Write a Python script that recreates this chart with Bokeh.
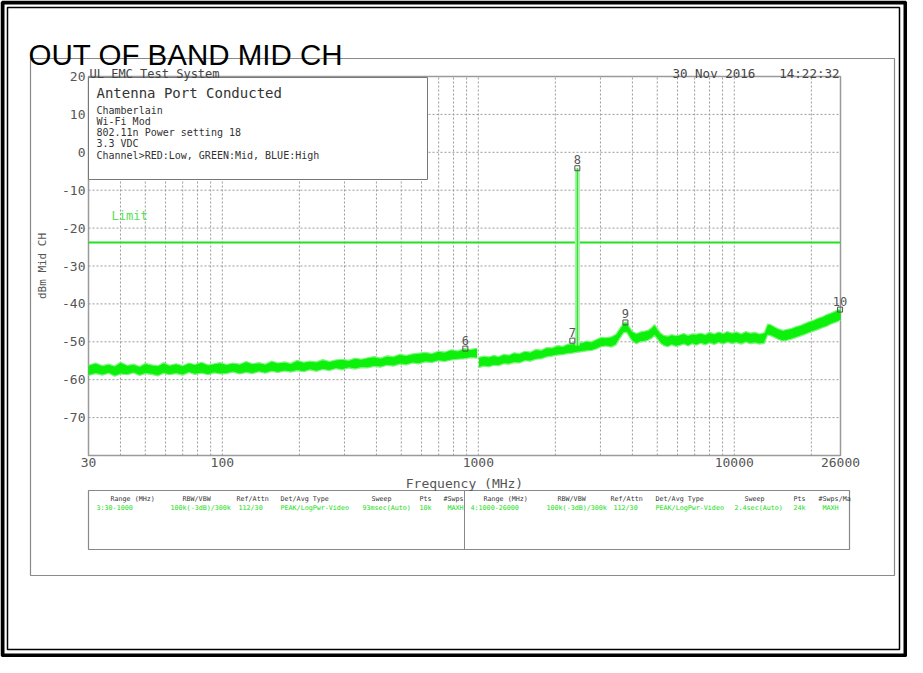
import math
from bokeh.plotting import figure
from bokeh.models import Range1d, LogScale, LinearAxis, FixedTicker, BasicTickFormatter
from bokeh.embed import file_html
from bokeh.resources import INLINE
from bokeh.core.properties import value

# ---------------- data ----------------
title_text = "OUT OF BAND MID CH"
system_text = "UL EMC Test System"
date_text = "30 Nov 2016"
time_text = "14:22:32"
info_title = "Antenna Port Conducted"
info_lines = ["Chamberlain", "Wi-Fi Mod", "802.11n Power setting 18", "3.3 VDC",
              "Channel>RED:Low, GREEN:Mid, BLUE:High"]
x_label = "Frequency (MHz)"
y_label = "dBm Mid CH"

f_min, f_max = 30, 26000
db_min, db_max = -80, 20
x_ticks = [30, 100, 1000, 10000, 26000]
x_tick_labels = ["30", "100", "1000", "10000", "26000"]
y_ticks = [20, 10, 0, -10, -20, -30, -40, -50, -60, -70]
y_tick_labels = ["20", "10", "0", "-10", "-20", "-30", "-40", "-50", "-60", "-70"]
grid_freqs = [40, 50, 60, 70, 80, 90, 100, 200, 300, 400, 500, 600, 700, 800, 900,
              1000, 2000, 3000, 4000, 5000, 6000, 7000, 8000, 9000, 10000, 20000]
grid_dbm = [10, 0, -10, -20, -30, -40, -50, -60, -70]

limit_dbm = -23.8
limit_label = "Limit"

# sweep 3: 30-1000 MHz (noise envelope, dBm)
sweep3_freq = [30, 32, 34, 36, 38, 40, 42.5, 45, 47.5, 50, 53, 56, 59, 62, 66, 70, 74, 78, 83,
               88, 93, 98, 104, 110, 117, 124, 131, 139, 147, 156, 165, 175, 185, 196, 208,
               220, 233, 247, 262, 277, 294, 311, 330, 349, 370, 392, 415, 440, 466, 494,
               523, 554, 587, 622, 659, 698, 740, 784, 830, 880, 932, 990]
sweep3_lo = [-58.9, -58.4, -58.8, -58.3, -59.1, -58.5, -58.7, -58.2, -58.9, -58.4, -58.6, -59.0,
             -58.3, -58.7, -58.4, -58.8, -58.1, -58.6, -58.3, -58.7, -58.2, -58.5, -58.4, -58.0,
             -58.5, -58.1, -58.4, -57.9, -58.3, -57.8, -58.1, -57.7, -58.0, -57.6, -57.9, -57.4,
             -57.8, -57.3, -57.6, -57.1, -57.4, -56.9, -57.2, -56.8, -56.9, -56.5, -56.7, -56.2,
             -56.4, -55.9, -56.1, -55.6, -55.8, -55.3, -55.5, -55.0, -55.2, -54.8, -54.6, -54.5,
             -54.2, -54.3]
sweep3_hi = [-56.2, -55.6, -56.3, -55.9, -56.4, -55.4, -56.2, -55.9, -56.5, -55.7, -56.1, -56.3,
             -55.5, -56.2, -55.8, -56.3, -55.6, -56.0, -55.4, -56.1, -55.8, -55.5, -56.0, -55.6,
             -55.9, -55.2, -55.8, -55.5, -55.9, -55.1, -55.6, -55.3, -55.7, -54.9, -55.4, -55.1,
             -55.3, -54.7, -55.2, -54.8, -54.6, -54.9, -54.3, -54.6, -54.2, -53.9, -54.3, -53.7,
             -53.9, -53.3, -53.6, -53.2, -53.0, -52.8, -53.1, -52.5, -52.7, -52.1, -52.4, -51.8,
             -52.0, -51.7]
# sweep 4: 1000-26000 MHz (noise envelope, dBm)
sweep4_freq = [1005, 1050, 1100, 1150, 1200, 1260, 1320, 1380, 1450, 1520, 1600, 1680, 1760,
               1850, 1940, 2040, 2140, 2240, 2330, 2420, 2540, 2650, 2770, 2890, 3020, 3150,
               3300, 3450, 3580, 3700, 3800, 3900, 4000, 4150, 4300, 4450, 4600, 4750, 4880,
               5000, 5150, 5300, 5500, 5700, 5900, 6100, 6350, 6600, 6850, 7100, 7400, 7700,
               8000, 8350, 8700, 9050, 9400, 9800, 10200, 10650, 11100, 11550, 12050, 12550,
               13100, 13500, 13900, 14400, 14900, 15500, 16100, 16700, 17400, 18100, 18800,
               19600, 20400, 21200, 22100, 23000, 23900, 24800, 25500, 26000]
sweep4_lo = [-56.8, -56.4, -56.6, -56.2, -56.3, -55.8, -55.9, -55.5, -55.6, -55.0, -55.1, -54.6,
             -54.5, -54.0, -53.8, -53.5, -53.4, -53.1, -53.0, -52.8, -52.6, -52.4, -52.3, -51.9,
             -51.3, -51.1, -51.4, -50.8, -49.0, -47.6, -47.5, -48.8, -49.9, -50.5, -50.0, -49.9,
             -49.6, -49.1, -48.3, -49.2, -50.4, -51.0, -51.3, -50.8, -51.2, -51.0, -50.6, -51.1,
             -50.5, -50.9, -50.4, -50.8, -50.3, -50.7, -50.2, -50.6, -50.1, -50.5, -50.2, -50.6,
             -50.1, -50.5, -50.3, -50.6, -50.4, -48.2, -48.4, -48.9, -49.4, -49.8, -49.6, -49.3,
             -48.9, -48.5, -48.1, -47.6, -47.2, -46.8, -46.3, -45.9, -45.3, -44.9, -44.6, -44.3]
sweep4_hi = [-54.1, -53.8, -54.0, -53.6, -53.9, -53.3, -53.5, -52.9, -53.1, -52.5, -52.7, -52.0,
             -52.2, -51.5, -51.6, -51.0, -51.2, -50.6, -50.5, -50.3, -50.2, -49.8, -50.0, -49.4,
             -48.8, -48.9, -48.7, -48.0, -46.4, -45.0, -44.8, -46.2, -47.3, -47.8, -47.4, -47.2,
             -47.0, -46.3, -45.4, -46.5, -47.7, -48.3, -48.5, -48.1, -48.4, -48.2, -47.8, -48.3,
             -47.9, -48.0, -47.7, -48.1, -47.5, -47.9, -47.4, -47.8, -47.3, -47.7, -47.4, -47.9,
             -47.3, -47.7, -47.5, -47.9, -47.6, -45.3, -45.5, -46.1, -46.6, -47.0, -46.7, -46.5,
             -46.0, -45.7, -45.2, -44.7, -44.3, -43.8, -43.4, -42.8, -42.4, -41.9, -41.5, -41.4]

carrier_freq = 2437
carrier_peak = -4.2
carrier_base = -51.0

marker_ids = ["6", "7", "8", "9", "10"]
marker_freq = [890, 2330, 2437, 3757, 25900]
marker_dbm = [-51.8, -49.7, -4.2, -44.9, -41.5]

table_headers_low = ["Range (MHz)", "RBW/VBW", "Ref/Attn", "Det/Avg Type", "Sweep", "Pts", "#Swps"]
table_headers_high = ["Range (MHz)", "RBW/VBW", "Ref/Attn", "Det/Avg Type", "Sweep", "Pts", "#Swps/Ma"]
table_row_low = ["3:30-1000", "100k(-3dB)/300k", "112/30", "PEAK/LogPwr-Video", "93msec(Auto)", "10k", "MAXH"]
table_row_high = ["4:1000-26000", "100k(-3dB)/300k", "112/30", "PEAK/LogPwr-Video", "2.4sec(Auto)", "24k", "MAXH"]

# ---------------- layout ----------------
W, H = 907, 657
frame_left, frame_right, frame_top, frame_bottom = 88, 840, 76, 455
MONO = value("DejaVu Sans Mono")

p = figure(width=W, height=H, x_range=Range1d(0, W), y_range=Range1d(H, 0),
           x_axis_type=None, y_axis_type=None, output_backend="svg",
           toolbar_location=None, min_border=0)
p.outline_line_color = None
p.background_fill_color = "white"
p.border_fill_color = "white"

dpp = (math.log10(f_max) - math.log10(f_min)) / (frame_right - frame_left)
f_lo = 10 ** (math.log10(f_min) - frame_left * dpp)
f_hi = 10 ** (math.log10(f_max) + (W - frame_right) * dpp)
dbpp = (db_max - db_min) / (frame_bottom - frame_top)
db_hi = db_max + frame_top * dbpp
db_lo = db_min - (H - frame_bottom) * dbpp
p.extra_x_ranges = {"freq": Range1d(f_lo, f_hi)}
p.extra_x_scales = {"freq": LogScale()}
p.extra_y_ranges = {"dbm": Range1d(db_lo, db_hi)}
D = dict(x_range_name="freq", y_range_name="dbm")

# page borders
p.quad(left=[2], right=[W - 2], top=[2], bottom=[H - 2], fill_color=None,
       line_color="black", line_width=4)
p.quad(left=[7], right=[W - 8], top=[7], bottom=[H - 8], fill_color=None,
       line_color="black", line_width=1.5)
# gray frame
p.quad(left=[30], right=[894], top=[58], bottom=[575], fill_color=None,
       line_color="#8a8a8a", line_width=1.2)

# title
p.text(x=[28], y=[54], text=[title_text], text_font=value("Liberation Sans"),
       text_font_size="29.5px", text_color="black", text_baseline="alphabetic")

# grid
ng = len(grid_freqs)
p.segment(x0=grid_freqs, y0=[db_min] * ng, x1=grid_freqs, y1=[db_max] * ng,
          line_color="#9a9a9a", line_dash="2 2", line_width=1, **D)
nh = len(grid_dbm)
p.segment(x0=[f_min] * nh, y0=grid_dbm, x1=[f_max] * nh, y1=grid_dbm,
          line_color="#9a9a9a", line_dash="2 2", line_width=1, **D)
p.quad(left=[f_min], right=[f_max], top=[db_max], bottom=[db_min], fill_color=None,
       line_color="#9a9a9a", line_width=1.5, **D)

# limit
p.segment(x0=[f_min], y0=[limit_dbm], x1=[f_max], y1=[limit_dbm],
          line_color="#22e022", line_width=2, **D)

# trace (two sweeps)
for fx, lo, hi in ((sweep3_freq, sweep3_lo, sweep3_hi), (sweep4_freq, sweep4_lo, sweep4_hi)):
    p.varea(x=fx, y1=lo, y2=hi, fill_color="#0cf00c", **D)
    p.line(x=fx, y=hi, line_color="#7cf67c", line_width=1.2, **D)
    p.line(x=fx, y=lo, line_color="#7cf67c", line_width=1.2, **D)

# carrier spike
p.segment(x0=[carrier_freq], y0=[carrier_base], x1=[carrier_freq], y1=[carrier_peak],
          line_color="#a4f2a4", line_width=5, **D)
p.segment(x0=[carrier_freq], y0=[carrier_base], x1=[carrier_freq], y1=[carrier_peak],
          line_color="#1edc1e", line_width=1, **D)

# markers
p.scatter(x=marker_freq, y=marker_dbm, marker="square", size=5, fill_color=None,
          line_color="#555555", line_width=1, **D)
p.text(x=marker_freq, y=marker_dbm, text=marker_ids, y_offset=-4, text_align="center",
       text_baseline="bottom", text_font=MONO, text_font_size="12px",
       text_color="#555555", **D)

# info box
p.quad(left=[88], right=[427], top=[77], bottom=[179], fill_color="white",
       line_color="#777777", line_width=1)
p.text(x=[96], y=[92], text=[info_title], text_font=MONO, text_font_size="14px",
       text_color="#333333", text_baseline="alphabetic")
p.text(x=[96] * len(info_lines), y=[110, 121, 132, 143, 155], text=info_lines,
       text_font=MONO, text_font_size="10px", text_color="#333333",
       text_baseline="alphabetic")

# header texts
p.text(x=[89], y=[73], text=[system_text], text_font=MONO, text_font_size="12px",
       text_color="#444444", text_baseline="alphabetic")
p.text(x=[672], y=[73], text=[date_text], text_font=MONO, text_font_size="12.5px",
       text_color="#444444", text_baseline="alphabetic")
p.text(x=[839], y=[73], text=[time_text], text_font=MONO, text_font_size="12.5px",
       text_color="#444444", text_baseline="alphabetic", text_align="right")
p.text(x=[111], y=[215], text=[limit_label], text_font=MONO, text_font_size="12px",
       text_color="#55e055", text_baseline="alphabetic")

# axes
xaxis = LinearAxis(fixed_location=db_min, bounds=(f_min, f_max),
                   ticker=FixedTicker(ticks=x_ticks, minor_ticks=[]),
                   formatter=BasicTickFormatter(use_scientific=False),
                   major_label_overrides=dict(zip(x_ticks, x_tick_labels)),
                   axis_label=x_label, **D)
yaxis = LinearAxis(fixed_location=f_min, bounds=(db_min, db_max),
                   ticker=FixedTicker(ticks=y_ticks, minor_ticks=[]),
                   formatter=BasicTickFormatter(use_scientific=False),
                   major_label_overrides=dict(zip(y_ticks, y_tick_labels)),
                   axis_label=y_label, **D)
for ax in (xaxis, yaxis):
    ax.axis_line_color = None
    ax.major_tick_line_color = None
    ax.minor_tick_line_color = None
    ax.major_tick_out = 0
    ax.major_tick_in = 0
    ax.major_label_text_font = "DejaVu Sans Mono"
    ax.major_label_text_font_size = "13px"
    ax.major_label_text_color = "#555555"
    ax.axis_label_text_font = "DejaVu Sans Mono"
    ax.axis_label_text_font_style = "normal"
    ax.axis_label_text_color = "#555555"
xaxis.major_label_standoff = 2
xaxis.axis_label_standoff = 6
xaxis.axis_label_text_font_size = "13px"
yaxis.major_label_standoff = 3
yaxis.axis_label_standoff = 10
yaxis.axis_label_text_font_size = "11px"
p.add_layout(xaxis, "below")
p.add_layout(yaxis, "left")

# settings table
p.quad(left=[88], right=[849], top=[490], bottom=[549], fill_color=None,
       line_color="#888888", line_width=1.2)
p.segment(x0=[464], y0=[490], x1=[464], y1=[549], line_color="#888888", line_width=1)
TF = "6.7px"
p.text(x=[110, 182, 236, 280, 371, 419, 443], y=[498] * 7, text=table_headers_low,
       text_font=MONO, text_font_size=TF, text_color="#333333", text_baseline="alphabetic")
p.text(x=[96, 170, 238, 280, 362, 419, 447], y=[507] * 7, text=table_row_low,
       text_font=MONO, text_font_size=TF, text_color="#11dd11", text_baseline="alphabetic")
p.text(x=[483, 557, 610, 655, 744, 793, 818], y=[498] * 7, text=table_headers_high,
       text_font=MONO, text_font_size=TF, text_color="#333333", text_baseline="alphabetic")
p.text(x=[470, 546, 613, 655, 734, 793, 822], y=[507] * 7, text=table_row_high,
       text_font=MONO, text_font_size=TF, text_color="#11dd11", text_baseline="alphabetic")

open("out.html", "w").write(file_html(p, INLINE))
